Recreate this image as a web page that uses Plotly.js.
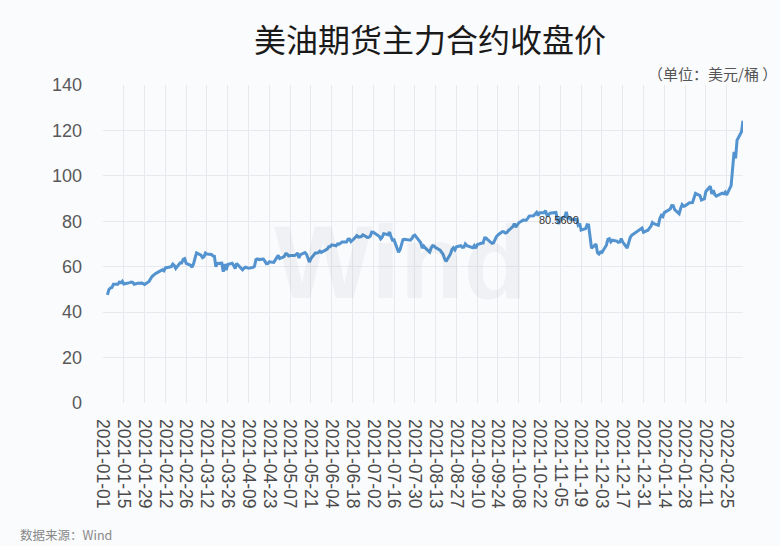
<!DOCTYPE html>
<html>
<head>
<meta charset="utf-8">
<script src="https://cdn.plot.ly/plotly-3.0.1.min.js"></script>
<style>html,body{margin:0;padding:0;background:#fafbfd;}#chart{width:780px;height:546px;}</style>
</head>
<body>
<div id="chart"></div>
<script>
const dates = [
"2021-01-04","2021-01-05","2021-01-06","2021-01-07","2021-01-08","2021-01-11","2021-01-12","2021-01-13","2021-01-14","2021-01-15",
"2021-01-19","2021-01-20","2021-01-21","2021-01-22","2021-01-25","2021-01-26","2021-01-27","2021-01-28","2021-01-29",
"2021-02-01","2021-02-02","2021-02-03","2021-02-04","2021-02-05","2021-02-08","2021-02-09","2021-02-10","2021-02-11","2021-02-12",
"2021-02-16","2021-02-17","2021-02-18","2021-02-19","2021-02-22","2021-02-23","2021-02-24","2021-02-25","2021-02-26",
"2021-03-01","2021-03-02","2021-03-03","2021-03-04","2021-03-05","2021-03-08","2021-03-09","2021-03-10","2021-03-11","2021-03-12",
"2021-03-15","2021-03-16","2021-03-17","2021-03-18","2021-03-19","2021-03-22","2021-03-23","2021-03-24","2021-03-25","2021-03-26",
"2021-03-29","2021-03-30","2021-03-31","2021-04-01","2021-04-05","2021-04-06","2021-04-07","2021-04-08","2021-04-09",
"2021-04-12","2021-04-13","2021-04-14","2021-04-15","2021-04-16","2021-04-19","2021-04-20","2021-04-21","2021-04-22","2021-04-23",
"2021-04-26","2021-04-27","2021-04-28","2021-04-29","2021-04-30","2021-05-03","2021-05-04","2021-05-05","2021-05-06","2021-05-07",
"2021-05-10","2021-05-11","2021-05-12","2021-05-13","2021-05-14","2021-05-17","2021-05-18","2021-05-19","2021-05-20","2021-05-21",
"2021-05-24","2021-05-25","2021-05-26","2021-05-27","2021-05-28","2021-06-01","2021-06-02","2021-06-03","2021-06-04",
"2021-06-07","2021-06-08","2021-06-09","2021-06-10","2021-06-11","2021-06-14","2021-06-15","2021-06-16","2021-06-17","2021-06-18",
"2021-06-21","2021-06-22","2021-06-23","2021-06-24","2021-06-25","2021-06-28","2021-06-29","2021-06-30","2021-07-01","2021-07-02",
"2021-07-06","2021-07-07","2021-07-08","2021-07-09","2021-07-12","2021-07-13","2021-07-14","2021-07-15","2021-07-16",
"2021-07-19","2021-07-20","2021-07-21","2021-07-22","2021-07-23","2021-07-26","2021-07-27","2021-07-28","2021-07-29","2021-07-30",
"2021-08-02","2021-08-03","2021-08-04","2021-08-05","2021-08-06","2021-08-09","2021-08-10","2021-08-11","2021-08-12","2021-08-13",
"2021-08-16","2021-08-17","2021-08-18","2021-08-19","2021-08-20","2021-08-23","2021-08-24","2021-08-25","2021-08-26","2021-08-27",
"2021-08-30","2021-08-31","2021-09-01","2021-09-02","2021-09-03","2021-09-07","2021-09-08","2021-09-09","2021-09-10",
"2021-09-13","2021-09-14","2021-09-15","2021-09-16","2021-09-17","2021-09-20","2021-09-21","2021-09-22","2021-09-23","2021-09-24",
"2021-09-27","2021-09-28","2021-09-29","2021-09-30","2021-10-01","2021-10-04","2021-10-05","2021-10-06","2021-10-07","2021-10-08",
"2021-10-11","2021-10-12","2021-10-13","2021-10-14","2021-10-15","2021-10-18","2021-10-19","2021-10-20","2021-10-21","2021-10-22",
"2021-10-25","2021-10-26","2021-10-27","2021-10-28","2021-10-29","2021-11-01","2021-11-02","2021-11-03","2021-11-04","2021-11-05",
"2021-11-08","2021-11-09","2021-11-10","2021-11-11","2021-11-12","2021-11-15","2021-11-16","2021-11-17","2021-11-18","2021-11-19",
"2021-11-22","2021-11-23","2021-11-24","2021-11-26","2021-11-29","2021-11-30","2021-12-01","2021-12-02","2021-12-03",
"2021-12-06","2021-12-07","2021-12-08","2021-12-09","2021-12-10","2021-12-13","2021-12-14","2021-12-15","2021-12-16","2021-12-17",
"2021-12-20","2021-12-21","2021-12-22","2021-12-23","2021-12-27","2021-12-28","2021-12-29","2021-12-30","2021-12-31",
"2022-01-03","2022-01-04","2022-01-05","2022-01-06","2022-01-07","2022-01-10","2022-01-11","2022-01-12","2022-01-13","2022-01-14",
"2022-01-18","2022-01-19","2022-01-20","2022-01-21","2022-01-24","2022-01-25","2022-01-26","2022-01-27","2022-01-28",
"2022-01-31","2022-02-01","2022-02-02","2022-02-03","2022-02-04","2022-02-07","2022-02-08","2022-02-09","2022-02-10","2022-02-11",
"2022-02-14","2022-02-15","2022-02-16","2022-02-17","2022-02-18","2022-02-22","2022-02-23","2022-02-24","2022-02-25",
"2022-02-28","2022-03-01","2022-03-02","2022-03-03","2022-03-04","2022-03-07","2022-03-08"
];
const closePrices = [
47.62,49.93,50.63,50.83,52.24,52.25,53.21,52.91,53.57,52.36,
52.98,53.24,53.13,52.27,52.77,52.61,52.85,52.34,52.20,
53.55,54.76,55.69,56.23,56.85,57.97,58.36,58.68,58.24,59.47,
60.05,61.14,60.52,59.24,61.70,61.67,63.22,63.53,61.50,
60.64,59.75,61.28,63.83,66.09,65.05,64.01,64.44,66.02,65.61,
65.39,64.80,64.60,60.00,61.42,61.55,57.76,61.18,58.56,60.97,
61.56,60.55,59.16,61.45,58.65,59.33,59.77,59.60,59.32,
59.70,60.18,63.15,63.46,63.13,63.38,62.44,61.35,61.43,62.14,
61.91,62.94,63.86,65.01,63.58,64.49,65.69,65.63,64.71,64.90,
64.92,65.28,66.08,63.82,65.37,66.27,65.49,63.36,62.05,63.58,
66.05,66.07,66.21,66.85,66.32,67.72,68.83,68.81,69.62,
69.23,70.05,69.96,70.29,70.91,70.88,72.12,72.15,71.04,71.64,
73.66,73.06,73.08,73.30,74.05,72.91,72.98,73.47,75.23,75.16,
73.37,72.20,72.94,74.56,74.10,75.25,73.13,71.65,71.81,
66.42,67.42,70.30,71.91,72.07,71.91,71.65,72.39,73.62,73.95,
71.26,70.56,68.15,69.09,68.28,66.48,68.29,69.25,69.09,68.44,
67.29,66.59,65.46,63.69,62.32,65.64,67.54,68.36,67.42,68.74,
69.21,68.50,68.59,69.99,69.29,68.35,69.30,68.14,69.72,
70.45,70.46,72.61,72.61,71.97,70.29,70.56,72.23,73.30,73.98,
75.45,75.29,74.83,75.03,75.88,77.62,78.93,77.43,78.30,79.35,
80.52,80.64,80.44,81.31,82.28,82.44,82.96,83.87,82.50,83.76,
83.76,84.65,82.66,82.81,83.57,84.05,83.91,80.86,78.81,81.27,
81.93,84.15,81.34,81.59,80.79,80.88,80.76,78.36,79.01,76.10,
76.75,78.50,78.39,68.15,69.95,66.18,65.57,66.50,66.26,
69.49,72.05,72.36,70.94,71.67,71.29,70.73,70.87,72.38,70.86,
68.23,71.12,72.76,73.79,75.57,75.98,76.56,76.99,75.21,
76.08,76.99,77.85,79.46,78.90,78.23,81.22,82.64,82.12,83.82,
85.43,86.96,86.90,85.14,83.31,85.60,87.35,86.61,86.82,
88.15,88.20,88.26,90.27,92.31,91.32,89.36,89.66,89.88,93.10,
95.46,92.07,93.66,91.76,91.07,92.35,92.10,92.81,91.59,
95.72,103.41,110.60,107.67,115.68,119.40,124.3
];
const yTicks = [0,20,40,60,80,100,120,140];
const titleText = "美油期货主力合约收盘价";
const unitText = "（单位：美元/桶\u00a0）";
const sourceText = "数据来源：Wind";
const markLabelText = "80.5600";
const markLabelDate = "2021-10-20";
const markLabelValue = 80.4;

// plot area in pixels (for placing free text in paper coordinates)
const PL = 103, PR = 743, PT = 85, PB = 403;
const px = v => (v - PL) / (PR - PL);
const py = v => (PB - v) / (PB - PT);

const trace = {
  x: dates, y: closePrices, type: 'scatter', mode: 'lines',
  line: {color: '#5393cf', width: 3, shape: 'linear'},
  hoverinfo: 'x+y'
};

const layout = {
  width: 780, height: 546,
  margin: {l: PL, r: 780 - PR, t: PT, b: 546 - PB},
  paper_bgcolor: '#fafbfd', plot_bgcolor: '#fafbfd',
  showlegend: false,
  font: {family: 'Liberation Sans, Arial, sans-serif', color: '#555'},
  title: {
    text: titleText, x: 430/780, xanchor: 'center', xref: 'container',
    y: 1 - 41/546, yanchor: 'middle', yref: 'container',
    font: {family: 'Noto Sans CJK SC, sans-serif', size: 32, color: '#1a1a1a'}
  },
  xaxis: {
    type: 'date',
    range: ['2021-01-01', '2022-03-08'],
    tick0: '2021-01-01', dtick: 14*86400000,
    tickformat: '%Y-%m-%d', tickangle: 90,
    tickfont: {size: 17.5, color: '#4a4a4a', family: 'Liberation Sans, Arial, sans-serif'},
    showgrid: true, gridcolor: '#e7e9ee', gridwidth: 1,
    zeroline: false, showline: false, ticks: '',
    ticklabelstandoff: 15,
    fixedrange: true
  },
  yaxis: {
    range: [0, 140], tickvals: yTicks, ticktext: yTicks.map(String),
    tickfont: {size: 18, color: '#595959', family: 'Liberation Sans, Arial, sans-serif'},
    showgrid: true, gridcolor: '#e7e9ee', gridwidth: 1,
    zeroline: false, showline: false, ticks: '',
    ticklabelstandoff: 20,
    fixedrange: true
  },
  annotations: [
    {text: 'Wind', xref: 'paper', yref: 'paper', x: px(400), y: py(262), xanchor: 'center', yanchor: 'middle',
     showarrow: false, font: {size: 104, family: 'Liberation Sans, Arial, sans-serif', color: 'rgba(40,50,80,0.05)', weight: 'bold'}},
    {text: unitText, xref: 'paper', yref: 'paper', x: px(779), y: py(73), xanchor: 'right', yanchor: 'middle',
     showarrow: false, font: {size: 15, family: 'Noto Sans CJK SC, sans-serif', color: '#555'}},
    {text: sourceText, xref: 'paper', yref: 'paper', x: px(18), y: py(534), xanchor: 'left', yanchor: 'middle',
     showarrow: false, font: {size: 12.5, family: 'Noto Sans CJK SC, sans-serif', color: '#888'}},
    {text: markLabelText, xref: 'x', yref: 'y', x: markLabelDate, y: markLabelValue, xanchor: 'left', yanchor: 'middle',
     showarrow: false, font: {size: 11, family: 'Liberation Sans, Arial, sans-serif', color: '#333'}}
  ]
};

Plotly.newPlot('chart', [trace], layout, {displayModeBar: false, staticPlot: true});
</script>
</body>
</html>
